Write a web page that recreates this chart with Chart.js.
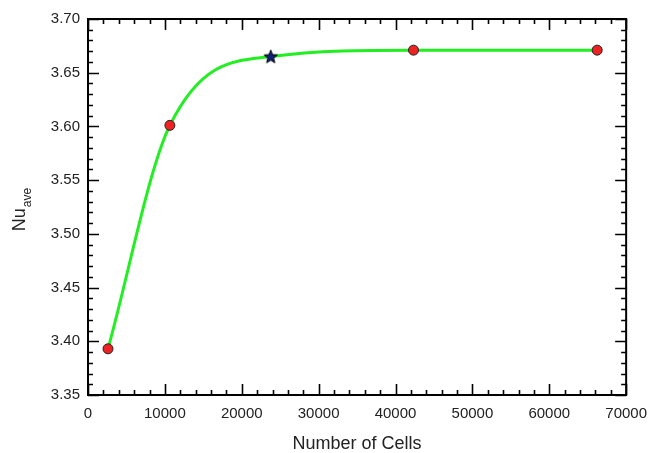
<!DOCTYPE html>
<html lang="en">
<head>
    <meta charset="UTF-8">
    <title>Nu_ave vs Number of Cells</title>
    <script src="https://cdn.jsdelivr.net/npm/chart.js"></script>
    <style>
        html, body { margin: 0; padding: 0; background: #fff; }
        .wrap { width: 657px; height: 453px; position: relative; }
    </style>
</head>
<body>
    <div class="wrap"><canvas id="gridChart" width="657" height="453"></canvas></div>

    <script>
        // grid study data
        const cells = [2600, 10650, 23770, 42340, 66230];
        const nuAve = [3.393, 3.601, 3.665, 3.671, 3.671];
        const markerKinds = ['circle', 'circle', 'star', 'circle', 'circle'];

        // axis ranges
        const xMin = 0, xMax = 70000, xStep = 10000, xMinor = 2000;
        const yMin = 3.35, yMax = 3.70, yStep = 0.05, yMinor = 0.01;

        const FONT = '"Liberation Sans", Arial, sans-serif';

        // filled star marker
        function makeStar() {
            const c = document.createElement('canvas');
            c.width = 16; c.height = 16;
            const g = c.getContext('2d');
            g.beginPath();
            for (let i = 0; i < 10; i++) {
                const r = i % 2 === 0 ? 7 : 3;
                const a = -Math.PI / 2 + i * Math.PI / 5;
                const px = 8 + r * Math.cos(a), py = 8.5 + r * Math.sin(a);
                i === 0 ? g.moveTo(px, py) : g.lineTo(px, py);
            }
            g.closePath();
            g.fillStyle = '#10207a';
            g.fill();
            g.lineWidth = 1;
            g.strokeStyle = '#000';
            g.stroke();
            return c;
        }
        const star = makeStar();

        const points = cells.map((x, i) => ({ x: x, y: nuAve[i] }));

        // frame + inward ticks + y title with subscript
        const framePlugin = {
            id: 'frame',
            afterDatasetsDraw(chart) {
                const ctx = chart.ctx;
                const a = chart.chartArea;
                const xs = chart.scales.x, ys = chart.scales.y;
                ctx.save();
                ctx.strokeStyle = '#000';
                ctx.lineWidth = 2;
                ctx.strokeRect(a.left, a.top, a.right - a.left, a.bottom - a.top);
                ctx.lineWidth = 1.6;
                ctx.beginPath();
                for (let v = xMin; v <= xMax + 1; v += xMinor) {
                    const px = Math.round(xs.getPixelForValue(v)) + 0.5;
                    const len = (v % xStep === 0) ? 11 : 5;
                    ctx.moveTo(px, a.bottom); ctx.lineTo(px, a.bottom - len);
                    ctx.moveTo(px, a.top); ctx.lineTo(px, a.top + len);
                }
                for (let k = 0; k <= Math.round((yMax - yMin) / yMinor); k++) {
                    const v = yMin + k * yMinor;
                    const py = Math.round(ys.getPixelForValue(v)) + 0.5;
                    const len = (k % 5 === 0) ? 11 : 5;
                    ctx.moveTo(a.left, py); ctx.lineTo(a.left + len, py);
                    ctx.moveTo(a.right, py); ctx.lineTo(a.right - len, py);
                }
                ctx.stroke();
                ctx.restore();
            },
            afterDraw(chart) {
                const ctx = chart.ctx;
                const a = chart.chartArea;
                ctx.save();
                ctx.translate(20, (a.top + a.bottom) / 2 + 3);
                ctx.rotate(-Math.PI / 2);
                ctx.fillStyle = '#222';
                ctx.textBaseline = 'middle';
                ctx.font = '18px ' + FONT;
                const w1 = ctx.measureText('Nu').width;
                ctx.font = '12px ' + FONT;
                const w2 = ctx.measureText('ave').width;
                const start = -(w1 + w2) / 2;
                ctx.font = '18px ' + FONT;
                ctx.textAlign = 'left';
                ctx.fillText('Nu', start, 0);
                ctx.font = '12px ' + FONT;
                ctx.fillText('ave', start + w1 + 1, 8);
                ctx.restore();
            }
        };

        window.onload = function() {
            new Chart(document.getElementById('gridChart'), {
                type: 'scatter',
                data: {
                    datasets: [
                        {
                            label: 'curve',
                            data: points,
                            showLine: true,
                            borderColor: '#22ee22',
                            borderWidth: 3,
                            cubicInterpolationMode: 'monotone',
                            pointRadius: 0,
                            order: 2
                        },
                        {
                            label: 'cases',
                            data: points,
                            showLine: false,
                            pointStyle: markerKinds.map(k => k === 'star' ? star : 'circle'),
                            pointRadius: 5,
                            backgroundColor: '#ee2222',
                            borderColor: '#222',
                            borderWidth: 1,
                            order: 1
                        }
                    ]
                },
                options: {
                    responsive: false,
                    animation: false,
                    devicePixelRatio: 1,
                    layout: { padding: { top: 19, right: 30, left: 0, bottom: 0 } },
                    plugins: {
                        legend: { display: false },
                        tooltip: { enabled: false }
                    },
                    scales: {
                        x: {
                            type: 'linear',
                            min: xMin, max: xMax,
                            grid: { display: false, drawTicks: false },
                            border: { display: false },
                            ticks: {
                                stepSize: xStep,
                                autoSkip: false,
                                maxRotation: 0,
                                minRotation: 0,
                                padding: 10,
                                color: '#222',
                                font: { family: FONT, size: 15 },
                                callback: v => String(v)
                            },
                            title: {
                                display: true,
                                text: 'Number of Cells',
                                color: '#222',
                                padding: { top: 10, bottom: 0 },
                                font: { family: FONT, size: 18, lineHeight: 1.0 }
                            },
                            afterFit(scale) { scale.height = 58; }
                        },
                        y: {
                            type: 'linear',
                            min: yMin, max: yMax,
                            grid: { display: false, drawTicks: false },
                            border: { display: false },
                            ticks: {
                                stepSize: yStep,
                                autoSkip: false,
                                padding: 8,
                                color: '#222',
                                font: { family: FONT, size: 15 },
                                callback: v => v.toFixed(2)
                            },
                            afterFit(scale) { scale.width = 88; }
                        }
                    }
                },
                plugins: [framePlugin]
            });
        };
    </script>
</body>
</html>
